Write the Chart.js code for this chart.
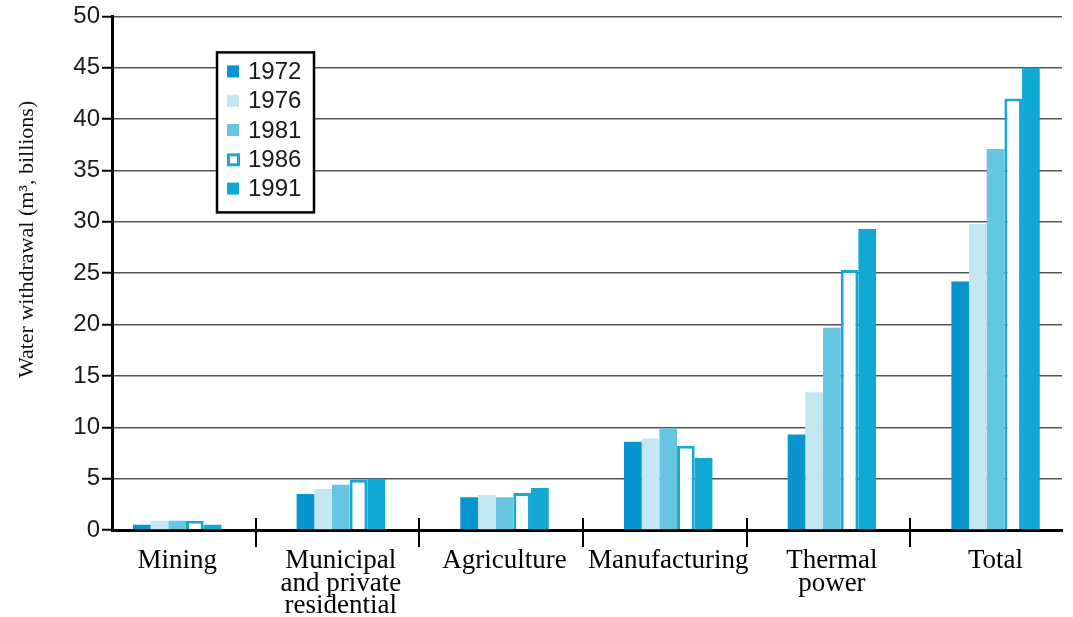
<!DOCTYPE html>
<html lang="en">
<head>
    <meta charset="UTF-8">
    <title>Water withdrawal by sector</title>
    <script src="https://cdn.jsdelivr.net/npm/chart.js"></script>
    <style>
        body {
            margin: 0;
            background: #fff;
        }
        .chart-wrapper {
            width: 1073px;
            height: 617px;
        }
    </style>
</head>
<body>
    <div class="chart-wrapper">
        <canvas id="withdrawalChart" width="1073" height="617"></canvas>
    </div>

    <script>
        // Values (billions of m3)
        const categories = ['Mining', ['Municipal', 'and private', 'residential'], 'Agriculture', 'Manufacturing', ['Thermal', 'power'], 'Total'];
        const years = ['1972', '1976', '1981', '1986', '1991'];
        const y1972 = [0.5, 3.5, 3.2, 8.6, 9.3, 24.2];
        const y1976 = [0.9, 4.0, 3.4, 8.9, 13.4, 29.8];
        const y1981 = [0.9, 4.4, 3.2, 9.9, 19.7, 37.1];
        const y1986 = [0.9, 4.9, 3.6, 8.2, 25.3, 42.0];
        const y1991 = [0.5, 5.0, 4.1, 7.0, 29.3, 45.0];
        const yTicks = [0, 5, 10, 15, 20, 25, 30, 35, 40, 45, 50];
        const yTitle = 'Water withdrawal (m\u00b3, billions)';

        const serif = '"Liberation Serif", "Times New Roman", serif';
        const sans = '"Liberation Sans", Arial, sans-serif';

        function toPoints(values) {
            return values.map((v, i) => ({ x: i, y: v }));
        }

        // short ticks between the sectors, crossing the x axis
        const sectorTicks = {
            id: 'sectorTicks',
            afterDatasetsDraw(chart) {
                const ctx = chart.ctx;
                const x = chart.scales.x;
                const bottom = chart.chartArea.bottom;
                ctx.save();
                ctx.strokeStyle = '#000';
                ctx.lineWidth = 2;
                for (let k = 0; k < categories.length - 1; k++) {
                    const px = Math.round(x.getPixelForValue(k + 0.48));
                    ctx.beginPath();
                    ctx.moveTo(px, bottom - 12);
                    ctx.lineTo(px, bottom + 17);
                    ctx.stroke();
                }
                ctx.restore();
            }
        };

        // y axis title, sits a little above the middle in the original
        const axisTitle = {
            id: 'axisTitle',
            afterDraw(chart) {
                const ctx = chart.ctx;
                const area = chart.chartArea;
                ctx.save();
                ctx.translate(27, area.top + 223);
                ctx.rotate(-Math.PI / 2);
                ctx.font = '22px ' + serif;
                ctx.fillStyle = '#111';
                ctx.textAlign = 'center';
                ctx.textBaseline = 'middle';
                ctx.fillText(yTitle, 0, 0);
                ctx.restore();
            }
        };

        // boxed legend inside the plot
        const boxLegend = {
            id: 'boxLegend',
            afterDraw(chart) {
                const ctx = chart.ctx;
                const area = chart.chartArea;
                const left = area.left + 105;
                const top = area.top + 36;
                const w = 97;
                const h = 160;
                ctx.save();
                ctx.fillStyle = '#fff';
                ctx.fillRect(left, top, w, h);
                ctx.strokeStyle = '#000';
                ctx.lineWidth = 2.5;
                ctx.strokeRect(left, top, w, h);
                ctx.font = '24px ' + sans;
                ctx.textBaseline = 'middle';
                chart.data.datasets.forEach((ds, i) => {
                    const cy = top + 19 + i * 29.3;
                    if (ds.borderWidth > 0) {
                        ctx.fillStyle = ds.borderColor;
                        ctx.fillRect(left + 10, cy - 6, 13, 13);
                        ctx.fillStyle = '#fff';
                        ctx.fillRect(left + 13, cy - 3, 7, 7);
                    } else {
                        ctx.fillStyle = ds.backgroundColor;
                        ctx.fillRect(left + 10, cy - 6, 12, 12);
                    }
                    ctx.fillStyle = '#1a1a1a';
                    ctx.fillText(ds.label, left + 31, cy + 1);
                });
                ctx.restore();
            }
        };

        const ctx = document.getElementById('withdrawalChart').getContext('2d');
        new Chart(ctx, {
            type: 'bar',
            data: {
                datasets: [
                    { label: years[0], data: toPoints(y1972), backgroundColor: '#0894cf', borderWidth: 0 },
                    { label: years[1], data: toPoints(y1976), backgroundColor: '#c3e7f0', borderWidth: 0 },
                    { label: years[2], data: toPoints(y1981), backgroundColor: '#66c6e1', borderWidth: 0 },
                    { label: years[3], data: toPoints(y1986), backgroundColor: '#ffffff', borderColor: '#16a9d6', borderWidth: 3, borderSkipped: 'bottom' },
                    { label: years[4], data: toPoints(y1991), backgroundColor: '#12a8d4', borderWidth: 0 }
                ]
            },
            options: {
                responsive: false,
                animation: false,
                barPercentage: 1,
                categoryPercentage: 0.54,
                layout: {
                    padding: { left: 0, right: 11, top: 15, bottom: 0 }
                },
                plugins: {
                    legend: { display: false },
                    tooltip: { enabled: false }
                },
                scales: {
                    x: {
                        type: 'linear',
                        offset: false,
                        min: -0.398,
                        max: 5.406,
                        afterFit(scale) { scale.height = 87; },
                        grid: { display: false, drawTicks: false, offset: false },
                        border: { display: true, color: '#000', width: 3 },
                        ticks: {
                            stepSize: 1,
                            includeBounds: false,
                            autoSkip: false,
                            maxRotation: 0,
                            padding: 19,
                            color: '#000',
                            font: { family: serif, size: 27, lineHeight: 0.85 },
                            callback: (v) => Number.isInteger(v) && categories[v] ? categories[v] : ''
                        }
                    },
                    y: {
                        min: 0,
                        max: 50,
                        afterFit(scale) { scale.width = 112; },
                        afterBuildTicks(scale) {
                            scale.ticks = yTicks.map(v => ({ value: v }));
                        },
                        grid: {
                            color: '#555',
                            lineWidth: 1.5,
                            tickLength: 10,
                            tickColor: '#000',
                            tickWidth: 2
                        },
                        border: { display: true, color: '#000', width: 3 },
                        ticks: {
                            padding: 2,
                            color: '#1a1a1a',
                            font: { family: sans, size: 24 }
                        }
                    }
                }
            },
            plugins: [sectorTicks, axisTitle, boxLegend]
        });
    </script>
</body>
</html>
